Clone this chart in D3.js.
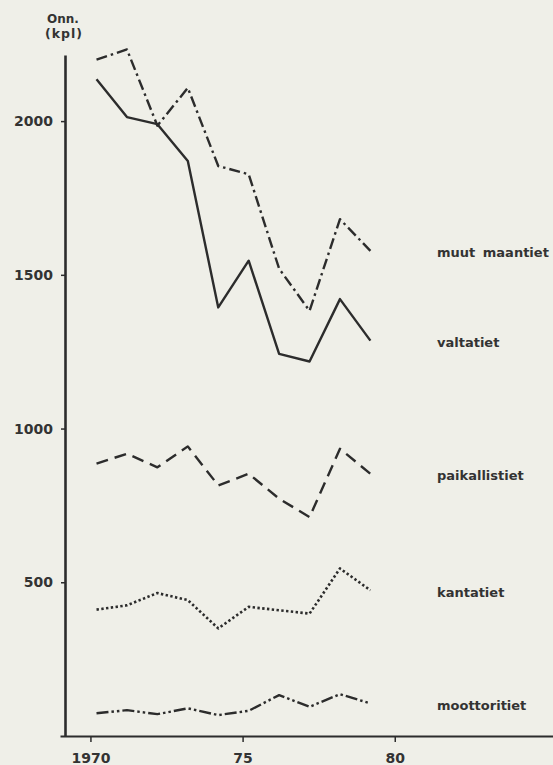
<!DOCTYPE html>
<html>
<head>
<meta charset="utf-8">
<script src="https://cdn.jsdelivr.net/npm/d3@7"></script>
<style>
  body { margin: 0; background: #efefe8; }
  svg { display: block; }
  text { font-family: "DejaVu Sans", sans-serif; font-weight: bold; fill: #333; }
</style>
</head>
<body>
<svg id="chart" width="553" height="765"></svg>
<script>
// yearly values (Onn. = accidents, kpl)
var years = [1970, 1971, 1972, 1973, 1974, 1975, 1976, 1977, 1978, 1979];
var muutMaantiet  = [2200, 2233, 1985, 2108, 1854, 1827, 1520, 1383, 1681, 1578];
var valtatiet     = [2136, 2013, 1990, 1870, 1394, 1546, 1243, 1218, 1421, 1286];
var paikallistiet = [886, 918, 874, 942, 815, 853, 772, 712, 934, 853];
var kantatiet     = [411, 425, 465, 442, 350, 420, 409, 398, 545, 474];
var moottoritiet  = [74, 84, 71, 90, 68, 82, 133, 95, 136, 106];

var seriesNames = ["muut maantiet", "valtatiet", "paikallistiet", "kantatiet", "moottoritiet"];
var seriesValues = [muutMaantiet, valtatiet, paikallistiet, kantatiet, moottoritiet];

var yTicks = [500, 1000, 1500, 2000];
var xTicks = [1970, 1975, 1980];

// line look per series
var dashes = {
  "muut maantiet": "11,4,2.5,4",
  "valtatiet": null,
  "paikallistiet": "12,7",
  "kantatiet": "2.4,2.4",
  "moottoritiet": "12,3,2.5,3,2.5,3"
};
var ink = "#2c2c2c";

var svg = d3.select("#chart");

var x = d3.scaleLinear().domain([1969, 1985.2]).range([60, 553]);
var y = d3.scaleLinear().domain([0, 2215]).range([736, 55]);
var yearOffset = 0.2; // points sit a little after the year tick

// y axis
var yAxis = svg.append("g")
  .attr("transform", "translate(65,0)")
  .call(d3.axisLeft(y).tickValues(yTicks).tickSize(4).tickSizeOuter(0).tickPadding(8)
    .tickFormat(d3.format("d")));
yAxis.select(".domain").attr("stroke", ink).attr("stroke-width", 2.6);
yAxis.selectAll(".tick line").attr("stroke", ink).attr("stroke-width", 1.5);
yAxis.selectAll(".tick text")
  .attr("font-size", 14).attr("fill", "#2c2c2c");

// x axis
var xAxis = svg.append("g")
  .attr("transform", "translate(0," + y(0) + ")")
  .call(d3.axisBottom(x).tickValues(xTicks).tickSize(6).tickSizeOuter(0).tickPadding(11)
    .tickFormat(function(d) { return d == 1970 ? "1970" : String(d).slice(2); }));
xAxis.select(".domain").attr("stroke", ink).attr("stroke-width", 2.2);
xAxis.selectAll(".tick line").attr("stroke", ink).attr("stroke-width", 1.5);
xAxis.selectAll(".tick text")
  .attr("font-size", 14).attr("fill", "#2c2c2c");

// axis title
svg.append("text").attr("x", 63).attr("y", 23).attr("text-anchor", "middle")
  .attr("font-size", 12).text("Onn.");
svg.append("text").attr("x", 64).attr("y", 38).attr("text-anchor", "middle")
  .attr("font-size", 12.5).attr("letter-spacing", 1).text("(kpl)");

var line = d3.line()
  .x(function(d, i) { return x(years[i] + yearOffset); })
  .y(function(d) { return y(d); });

seriesNames.forEach(function(name, k) {
  var vals = seriesValues[k];
  svg.append("path")
    .attr("d", line(vals))
    .attr("fill", "none")
    .attr("stroke", ink)
    .attr("stroke-width", name == "kantatiet" ? 2.6 : 2.4)
    .attr("stroke-linejoin", "round")
    .attr("stroke-dasharray", dashes[name]);

  // label next to the last value
  svg.append("text")
    .attr("x", 437)
    .attr("y", y(vals[vals.length - 1]))
    .attr("dy", "0.5em")
    .attr("font-size", 13)
    .attr("word-spacing", 3)
    .text(name);
});
</script>
</body>
</html>
